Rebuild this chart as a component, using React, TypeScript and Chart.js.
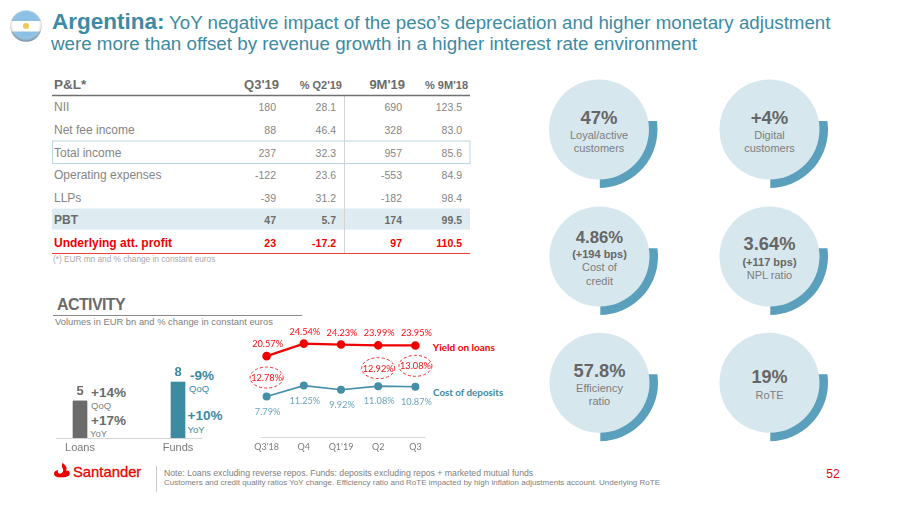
import React, { useEffect, useRef } from "react";
import { Chart, registerables } from "chart.js";

Chart.register(...registerables);

const FONT = "'Liberation Sans', Arial, sans-serif";
const CHART_FONT = "Lato, sans-serif";
const TEAL = "#3d8aa3";
const GREY = "#6b6b6b";

// Activity bars
const activityCategories = ["Loans", "Funds"];
const activityValues = [5.3, 8.0];
const activityLabels = ["5", "8"];

// Rates lines
const quarters = ["Q3'18", "Q4", "Q1'19", "Q2", "Q3"];
const yieldOnLoans = [20.57, 24.54, 24.23, 23.99, 23.95];
const costOfDeposits = [7.79, 11.25, 9.92, 11.08, 10.87];
const spreadNotes: (number | null)[] = [12.78, null, null, 12.92, 13.08];
const spreadNoteLift = [19, 0, 0, 18, 21];

// P&L table
const tableHeaders = ["Q3'19", "% Q2'19", "9M'19", "% 9M'18"];
const rowNames = ["NII", "Net fee income", "Total income", "Operating expenses", "LLPs", "PBT", "Underlying att. profit"];
const rowQ3 = ["180", "88", "237", "-122", "-39", "47", "23"];
const rowQoQ = ["28.1", "46.4", "32.3", "23.6", "31.2", "5.7", "-17.2"];
const row9M = ["690", "328", "957", "-553", "-182", "174", "97"];
const rowYoY = ["123.5", "83.0", "85.6", "84.9", "98.4", "99.5", "110.5"];
const rowY = [107, 130, 152.5, 175, 197.5, 219.5, 242.5];

// KPI circles
type Kpi = { cx: number; cy: number; cut: number; lines: [string, number, number, boolean][] };
const kpis: Kpi[] = [
  { cx: 599, cy: 129.5, cut: 121, lines: [["47%", 117, 18.5, true], ["Loyal/active", 134.7, 11, false], ["customers", 147.7, 11, false]] },
  { cx: 769.5, cy: 129.5, cut: 121, lines: [["+4%", 117, 18.5, true], ["Digital", 134.7, 11, false], ["customers", 147.7, 11, false]] },
  { cx: 599.5, cy: 256.5, cut: 248.3, lines: [["4.86%", 237.3, 16.7, true], ["(+194 bps)", 254.3, 11, true], ["Cost of", 267.3, 11, false], ["credit", 280.7, 11, false]] },
  { cx: 769.5, cy: 256.5, cut: 248.3, lines: [["3.64%", 243.7, 18.3, true], ["(+117 bps)", 261.7, 11, true], ["NPL ratio", 275, 11, false]] },
  { cx: 599.5, cy: 382.7, cut: 374.3, lines: [["57.8%", 370.7, 18.3, true], ["Efficiency", 388.3, 11, false], ["ratio", 401, 11, false]] },
  { cx: 769.5, cy: 382.7, cut: 374.3, lines: [["19%", 377.3, 18, true], ["RoTE", 395, 11, false]] },
];

function axisLine(leftPad: number, rightPad: number) {
  return {
    id: "axisLine",
    afterDraw(chart: any) {
      const { ctx, chartArea, scales } = chart;
      const n = chart.data.labels.length;
      ctx.save();
      ctx.strokeStyle = "#d6d6d6";
      ctx.lineWidth = 1;
      ctx.beginPath();
      ctx.moveTo(scales.x.getPixelForValue(0) - leftPad, Math.round(chartArea.bottom) + 0.5);
      ctx.lineTo(scales.x.getPixelForValue(n - 1) + rightPad, Math.round(chartArea.bottom) + 0.5);
      ctx.stroke();
      ctx.restore();
    },
  };
}

const barLabels = {
  id: "barLabels",
  afterDatasetsDraw(chart: any) {
    const { ctx } = chart;
    const colors = ["#6b6b6b", TEAL];
    chart.getDatasetMeta(0).data.forEach((bar: any, i: number) => {
      ctx.save();
      ctx.font = `bold 13px ${FONT}`;
      ctx.fillStyle = colors[i];
      ctx.textAlign = "center";
      ctx.textBaseline = "middle";
      ctx.fillText(activityLabels[i], bar.x, bar.y - 9.5);
      ctx.restore();
    });
  },
};

const lineLabels = {
  id: "lineLabels",
  afterDatasetsDraw(chart: any) {
    const { ctx, scales } = chart;
    const yMeta = chart.getDatasetMeta(0).data;
    const cMeta = chart.getDatasetMeta(1).data;
    ctx.save();
    ctx.textAlign = "center";
    ctx.textBaseline = "middle";
    ctx.font = `9.2px ${CHART_FONT}`;
    yMeta.forEach((p: any, i: number) => {
      ctx.fillStyle = "#f01010";
      ctx.fillText(yieldOnLoans[i].toFixed(2) + "%", p.x + 1, p.y - 12);
    });
    cMeta.forEach((p: any, i: number) => {
      ctx.fillStyle = "#6aa5ba";
      ctx.fillText(costOfDeposits[i].toFixed(2) + "%", p.x + 1, p.y + 15);
    });
    spreadNotes.forEach((v, i) => {
      if (v == null) return;
      const x = scales.x.getPixelForValue(i);
      const y = cMeta[i].y - spreadNoteLift[i];
      ctx.strokeStyle = "#f01010";
      ctx.lineWidth = 0.9;
      ctx.setLineDash([3, 2.2]);
      ctx.beginPath();
      ctx.ellipse(x, y, 16.5, 10.5, 0, 0, Math.PI * 2);
      ctx.stroke();
      ctx.setLineDash([]);
      ctx.fillStyle = "#f01010";
      ctx.fillText(v.toFixed(2) + "%", x, y + 0.5);
    });
    ctx.restore();
  },
};

function useChart(make: (c: HTMLCanvasElement) => Chart) {
  const ref = useRef<HTMLCanvasElement>(null);
  useEffect(() => {
    const chart = make(ref.current!);
    return () => chart.destroy();
  }, []);
  return ref;
}

const fixedAxis = (s: any) => { s.height = 22; };

function T(props: { x: number; y: number; children: any; size: number; bold?: boolean; fill?: string; anchor?: string; ls?: number; family?: string }) {
  return (
    <text x={props.x} y={props.y} fontSize={props.size} fontWeight={props.bold ? "bold" : "normal"} fill={props.fill || GREY}
      textAnchor={props.anchor || "start"} dominantBaseline="central" letterSpacing={props.ls} fontFamily={props.family || FONT}>
      {props.children}
    </text>
  );
}

export default function App() {
  const barRef = useChart((c) => new Chart(c, {
    type: "bar",
    data: {
      labels: activityCategories,
      datasets: [{ data: activityValues, backgroundColor: ["#6b6b6b", "#3d8aa3"], barThickness: 14 }],
    },
    options: {
      animation: false, responsive: false,
      layout: { autoPadding: false },
      plugins: { legend: { display: false }, tooltip: { enabled: false } },
      scales: {
        x: { grid: { display: false, drawTicks: false }, border: { display: false }, afterFit: fixedAxis,
          ticks: { color: "#7a7a7a", font: { family: FONT, size: 11 }, padding: 3 } },
        y: { display: false, min: 0, max: 14 },
      },
    },
    plugins: [axisLine(24, 24.5), barLabels],
  }));

  const lineRef = useChart((c) => new Chart(c, {
    type: "line",
    data: {
      labels: quarters,
      datasets: [
        { data: yieldOnLoans, borderColor: "#f00000", backgroundColor: "#f00000", borderWidth: 2.2, pointRadius: 3.2, tension: 0 },
        { data: costOfDeposits, borderColor: "#448ea8", backgroundColor: "#448ea8", borderWidth: 1.6, pointRadius: 3.2, tension: 0 },
      ],
    },
    options: {
      animation: false, responsive: false,
      layout: { autoPadding: false, padding: { right: 14 } },
      plugins: { legend: { display: false }, tooltip: { enabled: false } },
      scales: {
        x: { offset: true, grid: { display: false, drawTicks: false }, border: { display: false }, afterFit: fixedAxis,
          ticks: { color: "#7a7a7a", font: { family: CHART_FONT, size: 9 }, padding: 5, autoSkip: false, maxRotation: 0 } },
        y: { display: false, min: -5, max: 32 },
      },
    },
    plugins: [axisLine(6, 10), lineLabels],
  }));

  return (
    <div style={{ position: "absolute", left: 0, top: 0, width: 900, height: 506, overflow: "hidden", background: "#fff" }}>
      <svg width={900} height={506} style={{ position: "absolute", left: 0, top: 0 }}>
        <defs>
          <clipPath id="flag"><circle cx={26} cy={26} r={15.5} /></clipPath>
          <radialGradient id="sheen" cx="50%" cy="45%" r="55%">
            <stop offset="70%" stopColor="#ffffff" stopOpacity={0} />
            <stop offset="100%" stopColor="#555" stopOpacity={0.55} />
          </radialGradient>
          {kpis.map((k, i) => (
            <clipPath id={"ring" + i} key={i}><rect x={k.cx + 0.8} y={k.cut} width={70} height={80} /></clipPath>
          ))}
        </defs>

        {/* Flag */}
        <g clipPath="url(#flag)">
          <rect x={10} y={10} width={32} height={11} fill="#8cc0e4" />
          <rect x={10} y={21} width={32} height={10.5} fill="#ffffff" />
          <rect x={10} y={31.5} width={32} height={11} fill="#8cc0e4" />
          <circle cx={26} cy={26} r={3} fill="#eec95a" />
        </g>
        <circle cx={26} cy={26} r={15.8} fill="url(#sheen)" />

        {/* Title */}
        <text y={29} fontFamily={FONT} fill={TEAL}>
          <tspan x={52} fontSize={22.5} fontWeight="bold">Argentina:</tspan>
          <tspan x={169} fontSize={18.73}>YoY negative impact of the peso’s depreciation and higher monetary adjustment</tspan>
        </text>
        <text x={51} y={49.5} fontFamily={FONT} fill={TEAL} fontSize={18.75}>were more than offset by revenue growth in a higher interest rate environment</text>

        {/* Table */}
        <rect x={52} y={208.5} width={418} height={21} fill="#deecf1" />
        <rect x={52.5} y={141} width={417.5} height={22.5} fill="none" stroke="#bcd7e4" strokeWidth={1} />
        <line x1={344.5} x2={344.5} y1={96} y2={253} stroke="#d4d4d4" strokeWidth={1} />
        <line x1={52} x2={470} y1={95.5} y2={95.5} stroke="#707070" strokeWidth={1.4} />
        <line x1={52} x2={470} y1={253.5} y2={253.5} stroke="#f04040" strokeWidth={1} />
        <T x={54} y={84} size={13.5} bold>P&amp;L*</T>
        <T x={279} y={84} size={13} bold anchor="end">{tableHeaders[0]}</T>
        <T x={342} y={84.5} size={11} bold anchor="end">{tableHeaders[1]}</T>
        <T x={405} y={84} size={13} bold anchor="end">{tableHeaders[2]}</T>
        <T x={468} y={84.5} size={11} bold anchor="end">{tableHeaders[3]}</T>
        {rowNames.map((name, i) => {
          const bold = i >= 5;
          const fill = i === 6 ? "#f00000" : bold ? GREY : "#858585";
          const y = rowY[i];
          return (
            <g key={name}>
              <T x={54} y={y} size={12} bold={bold} fill={fill}>{name}</T>
              <T x={276} y={y} size={10.5} bold={bold} fill={fill} anchor="end">{rowQ3[i]}</T>
              <T x={336} y={y} size={10.5} bold={bold} fill={fill} anchor="end">{rowQoQ[i]}</T>
              <T x={402} y={y} size={10.5} bold={bold} fill={fill} anchor="end">{row9M[i]}</T>
              <T x={462} y={y} size={10.5} bold={bold} fill={fill} anchor="end">{rowYoY[i]}</T>
            </g>
          );
        })}
        <T x={53} y={259} size={8.25} fill="#a8a8a8">(*) EUR mn and % change in constant euros</T>

        {/* Activity */}
        <T x={57} y={304} size={16} bold ls={-0.6}>ACTIVITY</T>
        <line x1={53} x2={302} y1={315.5} y2={315.5} stroke="#8a8a8a" strokeWidth={1} />
        <T x={55} y={321.5} size={9.4} fill="#808080">Volumes in EUR bn and % change in constant euros</T>
        <T x={91} y={392} size={13.5} bold>+14%</T>
        <T x={91} y={405.3} size={9.5} fill="#808080">QoQ</T>
        <T x={91} y={420} size={13.5} bold>+17%</T>
        <T x={90} y={433} size={9.5} fill="#808080">YoY</T>
        <T x={190} y={375} size={13.5} bold fill={TEAL}>-9%</T>
        <T x={189} y={388.5} size={9.5} fill={TEAL}>QoQ</T>
        <T x={187.5} y={415} size={13.5} bold fill={TEAL}>+10%</T>
        <T x={187.5} y={429} size={9.5} fill={TEAL}>YoY</T>
        <T x={432.7} y={346.7} size={10} bold fill="#f00000" family={CHART_FONT}>Yield on loans</T>
        <T x={433} y={392.3} size={9.8} bold fill={TEAL} family={CHART_FONT}>Cost of deposits</T>

        {/* KPI circles */}
        {kpis.map((k, i) => (
          <g key={i}>
            <circle cx={k.cx} cy={k.cy} r={58.5} fill="#5a9fbb" clipPath={`url(#ring${i})`} />
            <circle cx={k.cx} cy={k.cy} r={50} fill="#d7e7ee" />
            {k.lines.map(([s, y, size, bold]) => (
              <T key={s} x={k.cx} y={y} size={size} bold={bold} anchor="middle" fill={bold ? "#666" : "#7d7d7d"}>{s}</T>
            ))}
          </g>
        ))}

        {/* Footer */}
        <path transform="translate(54 462.7) scale(.865 .81) translate(-53 -463)"
          d="M63 463 C67 467 69 470 66.5 473 C70 472 72 474.5 71 477.5 C70 480 65 481.5 62 481 C57 481.5 53 479.5 53 476.5 C53 474 55 472.5 58 472 C56.5 474 57.5 476 60 476.5 C64 476 64.5 472 62.5 469 C62 467 62 465 63 463 Z" fill="#ec0000" />
        <text x={73} y={472} fontSize={14.8} fontFamily={FONT} fill="#ec0000" stroke="#ec0000" strokeWidth={0.3} dominantBaseline="central">Santander</text>
        <line x1={156.5} x2={156.5} y1={466} y2={492} stroke="#c8c8c8" strokeWidth={1} />
        <T x={164} y={473} size={8.7} fill="#808080">Note: Loans excluding reverse repos. Funds: deposits excluding repos + marketed mutual funds</T>
        <T x={164} y={482.5} size={8} fill="#808080">Customers and credit quality ratios YoY change. Efficiency ratio and RoTE impacted by high inflation adjustments account. Underlying RoTE</T>
        <T x={833} y={474} size={12} fill="#ec0000" anchor="middle">52</T>
      </svg>

      <canvas ref={barRef} width={196} height={120} style={{ position: "absolute", left: 31, top: 340, width: 196, height: 120 }} />
      <canvas ref={lineRef} width={200} height={139} style={{ position: "absolute", left: 248, top: 320, width: 200, height: 139 }} />
    </div>
  );
}
